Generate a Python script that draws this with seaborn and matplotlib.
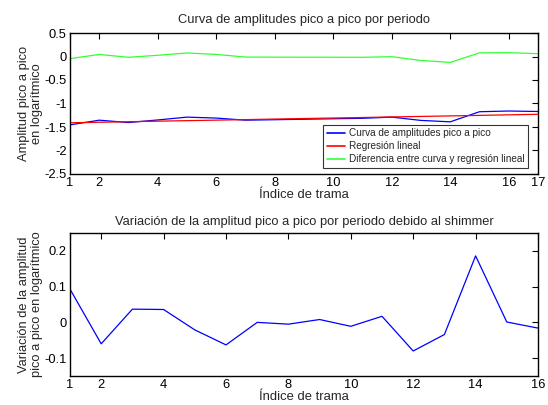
import numpy as np
import pandas as pd
import matplotlib
matplotlib.use("Agg")
import matplotlib.pyplot as plt
import seaborn as sns

# Frame indices
frames_top = list(range(1, 18))
frames_bottom = list(range(1, 17))

# Peak-to-peak amplitude curve (log), its linear regression and their difference
amplitud = [-1.455, -1.355, -1.405, -1.350, -1.290, -1.310, -1.355, -1.345, -1.335,
            -1.325, -1.315, -1.290, -1.360, -1.390, -1.175, -1.160, -1.170]
regresion = [-1.410, -1.399, -1.388, -1.376, -1.365, -1.354, -1.343, -1.331, -1.320,
             -1.309, -1.298, -1.286, -1.275, -1.264, -1.253, -1.241, -1.230]
diferencia = [-0.045, 0.044, -0.017, 0.026, 0.075, 0.044, -0.012, -0.014, -0.015,
              -0.016, -0.017, -0.004, -0.085, -0.126, 0.078, 0.081, 0.060]

# Period-to-period shimmer variation
variacion = [0.093, -0.060, 0.037, 0.036, -0.021, -0.063, 0.000, -0.005, 0.008,
             -0.011, 0.017, -0.080, -0.034, 0.186, 0.001, -0.016]

top_xticks = [1, 2, 4, 6, 8, 10, 12, 14, 16, 17]
top_yticks = [0.5, 0, -0.5, -1, -1.5, -2, -2.5]
top_yticklabels = ["0.5", "0", "-0.5", "-1", "-1.5", "-2", "-2.5"]
bottom_xticks = [1, 2, 4, 6, 8, 10, 12, 14, 16]
bottom_yticks = [0.2, 0.1, 0, -0.1]
bottom_yticklabels = ["0.2", "0.1", "0", "-0.1"]

sns.set_style("white")
plt.rcParams["font.family"] = ["Liberation Sans", "DejaVu Sans"]
plt.rcParams["font.size"] = 9

fig = plt.figure(figsize=(5.48, 4.05), dpi=100)
ax1 = fig.add_axes([70 / 548, 1 - 174 / 405, 468 / 548, 141 / 405])
ax2 = fig.add_axes([70 / 548, 1 - 376 / 405, 468 / 548, 143 / 405])

df_top = pd.DataFrame({
    "x": frames_top * 3,
    "y": amplitud + regresion + diferencia,
    "serie": (["Curva de amplitudes pico a pico"] * 17
              + ["Regresión lineal"] * 17
              + ["Diferencia entre curva y regresión lineal"] * 17),
})
palette = {
    "Curva de amplitudes pico a pico": "#0000ff",
    "Regresión lineal": "#ff0000",
    "Diferencia entre curva y regresión lineal": "#33ff33",
}
sns.lineplot(data=df_top, x="x", y="y", hue="serie", palette=palette,
             ax=ax1, linewidth=0.9)

df_bottom = pd.DataFrame({"x": frames_bottom, "y": variacion})
sns.lineplot(data=df_bottom, x="x", y="y", ax=ax2, color="#0000ff", linewidth=0.9)

def style(ax, xlim, ylim, xticks, yticks, yticklabels):
    ax.set_xlim(*xlim)
    ax.set_ylim(*ylim)
    ax.set_xticks(xticks)
    ax.set_xticklabels([str(t) for t in xticks])
    ax.set_yticks(yticks)
    ax.set_yticklabels(yticklabels)
    ax.tick_params(direction="in", length=4, width=0.8, top=True, right=True,
                   labelsize=9.3, pad=2.5, colors="black")
    for s in ax.spines.values():
        s.set_visible(True)
        s.set_color("black")
        s.set_linewidth(1.0)
    ax.set_xlabel("Índice de trama", fontsize=9.4, labelpad=0)

style(ax1, (1, 17), (-2.5, 0.5), top_xticks, top_yticks, top_yticklabels)
style(ax2, (1, 16), (-0.15, 0.25), bottom_xticks, bottom_yticks, bottom_yticklabels)

ax1.set_title("Curva de amplitudes pico a pico por periodo", fontsize=9.3, pad=7)
ax1.set_ylabel("Amplitud pico a pico\nen logarítmico", fontsize=9.3, labelpad=1,
               linespacing=1.1)
ax2.set_title("Variación de la amplitud pico a pico por periodo debido al shimmer",
              fontsize=9.3, pad=6)
ax2.set_ylabel("Variación de la amplitud\npico a pico en logarítmico", fontsize=9.3,
               labelpad=1, linespacing=1.1)

leg = ax1.legend(loc="lower right", bbox_to_anchor=(0.978, 0.045), fontsize=7.2,
                 frameon=True, fancybox=False, edgecolor="black", handlelength=1.8,
                 borderpad=0.35, labelspacing=0.3, handletextpad=0.4,
                 borderaxespad=0)
leg.get_frame().set_linewidth(0.8)
for line in leg.get_lines():
    line.set_linewidth(1.2)

fig.savefig("out.png", dpi=100)
